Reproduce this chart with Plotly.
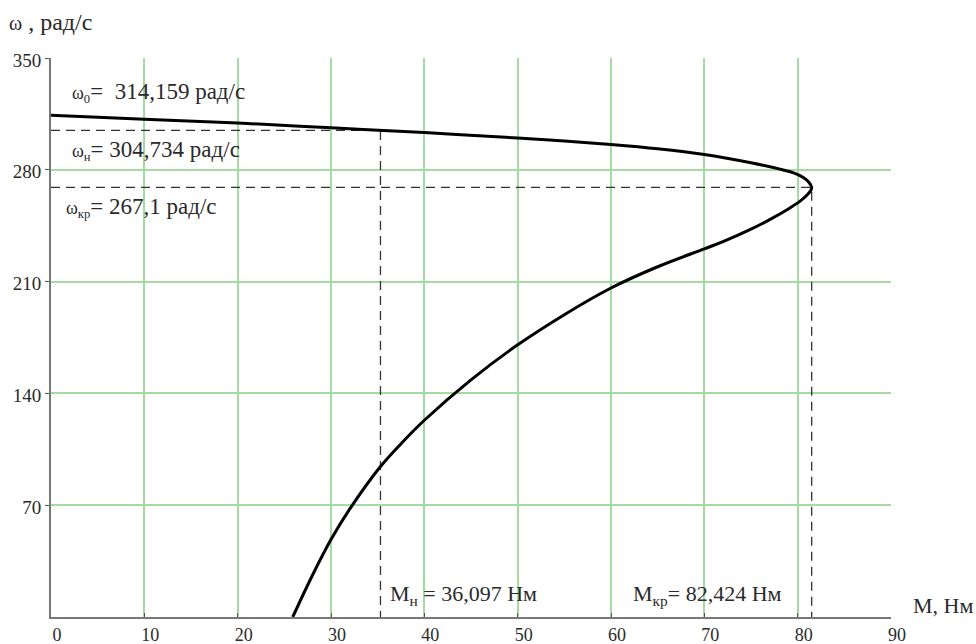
import plotly.graph_objects as go

# Curve: torque M (Нм) vs speed ω (рад/с)
M_curve = [0, 10, 20, 30, 40, 50, 55, 60, 65, 70, 75, 78, 79.5, 80.6, 81.2, 81.5,
           81.4, 81.0, 80.3, 79.0, 77.0, 75.0, 72.0, 70.0, 65.0, 60.0, 55.0, 50.0,
           45.0, 40.0, 37.5, 35.3, 32.0, 30.0, 28.0, 25.9]
W_curve = [314.2, 311.7, 309.3, 306.3, 303.3, 299.9, 298.1, 295.9, 293.2, 289.6,
           284.4, 280.6, 278.2, 275.2, 272.2, 269.0,
           267.0, 264.2, 260.5, 255.5, 248.8, 242.8, 235.0, 230.5, 219.3, 206.0,
           189.3, 170.4, 148.5, 123.2, 108.5, 94.2, 67.5, 48.5, 26.0, 0.0]

# Marked points (dashed guide lines) as drawn
M_nom, W_nom = 35.3, 304.7
M_kr, W_kr = 81.5, 269.0

x_ticks = [0, 10, 20, 30, 40, 50, 60, 70, 80, 90]
y_ticks = [70, 140, 210, 280, 350]

FONT = "Liberation Serif"
TXT = "#2a2a2a"

fig = go.Figure()

dash_style = dict(color="#333333", width=1.3, dash="9px,6px")
fig.add_trace(go.Scatter(x=[0, M_nom, M_nom], y=[W_nom, W_nom, 0], mode="lines",
                         line=dash_style, hoverinfo="skip", showlegend=False))
fig.add_trace(go.Scatter(x=[0, M_kr, M_kr], y=[W_kr, W_kr, 0], mode="lines",
                         line=dash_style, hoverinfo="skip", showlegend=False))

fig.add_trace(go.Scatter(x=M_curve, y=W_curve, mode="lines",
                         line=dict(color="black", width=3, shape="spline", smoothing=1.0),
                         showlegend=False))

grid_col = "#a3dba3"
common = dict(showgrid=True, gridcolor=grid_col, gridwidth=2,
              showline=True, linecolor="#777777", linewidth=2,
              ticklen=4, tickcolor="#555555",
              zeroline=False, automargin=False)
fig.update_xaxes(range=[0, 90], tickvals=x_ticks, ticktext=[str(v) for v in x_ticks],
                 ticks="inside", ticklabelshift=6,
                 tickfont=dict(family=FONT, size=18, color=TXT), **common)
fig.update_yaxes(range=[0, 350], tickvals=y_ticks, ticktext=[str(v) for v in y_ticks],
                 ticks="outside", ticklabelshift=2,
                 tickfont=dict(family=FONT, size=19, color=TXT), **common)

ann_font = dict(family=FONT, size=23, color=TXT)
anns = [
    dict(x=7, y=22, text="<span style='font-size:20px'>ω</span> , рад/с", font=dict(family=FONT, size=24, color=TXT)),
    dict(x=70, y=93, text="<span style='font-size:18px'>ω<sub>0</sub></span>=  314,159 рад/с"),
    dict(x=70, y=150, text="<span style='font-size:18px'>ω<sub>н</sub></span>= 304,734 рад/с"),
    dict(x=64, y=207, text="<span style='font-size:18px'>ω<sub>кр</sub></span>= 267,1 рад/с"),
    dict(x=388, y=595, text="M<sub>н</sub> = 36,097 Нм", font=dict(family=FONT, size=22, color=TXT)),
    dict(x=631, y=595, text="M<sub>кр</sub>= 82,424 Нм", font=dict(family=FONT, size=22, color=TXT)),
    dict(x=911, y=605, text="M, Нм", font=dict(family=FONT, size=22, color=TXT)),
]
L, R, T, B = 51, 85, 58, 27
for a in anns:
    fig.add_annotation(x=(a["x"] - L) / (976 - L - R), y=1 - (a["y"] - T) / (644 - T - B),
                       xref="paper", yref="paper",
                       text=a["text"], showarrow=False, xanchor="left", yanchor="middle",
                       font=a.get("font", ann_font))

fig.update_layout(width=976, height=644, plot_bgcolor="white", paper_bgcolor="white",
                  margin=dict(l=L, r=R, t=T, b=B), showlegend=False,
                  font=dict(family=FONT, color=TXT))

fig.write_html("out.html")
